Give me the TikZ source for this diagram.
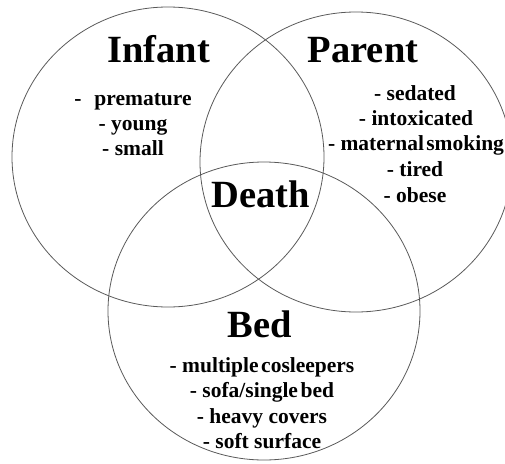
\documentclass[tikz,border=0pt]{standalone}
\usepackage{fontspec}
\setmainfont{Liberation Serif}
\begin{document}
\begin{tikzpicture}[x=1pt,y=-1pt,
  ring/.style={draw=black!65,line width=0.8pt},
  title/.style={font=\fontsize{38.5}{40}\selectfont\bfseries,anchor=base,inner sep=0pt},
  item/.style={font=\fontsize{21.5}{25}\selectfont\bfseries,anchor=base,inner sep=0pt}]
\useasboundingbox (0,0) rectangle (505,463);
\draw[ring] (168,157) ellipse [x radius=156, y radius=150];
\draw[ring] (356,162) ellipse [x radius=156, y radius=150];
\draw[ring] (264,311) ellipse [x radius=156, y radius=149];
% titles
\node[title] (infant) at (158.5,62) {Infant};
\node[title] (parent) at (363,62) {Parent};
\node[title] (death) at (261,207) {Death};
\node[title] (bed) at (259.5,337) {Bed};
% infant items
\node[item] (i1) at (133,105) {-\hspace{0.6em}premature};
\node[item] (i2) at (133,130) {- young};
\node[item] (i3) at (133,155) {- small};
% parent items
\node[item] (p1) at (415,100) {- sedated};
\node[item] (p2) at (416,125) {- intoxicated};
\node[item] (p3) at (416,150) {- maternal\hspace{0.1em}smoking};
\node[item] (p4) at (415,176) {- tired};
\node[item] (p5) at (415,202) {- obese};
% bed items
\node[item] (b1) at (262,372) {- multiple\hspace{0.12em}cosleepers};
\node[item] (b2) at (262,397) {- sofa/single\hspace{0.12em}bed};
\node[item] (b3) at (262,423) {- heavy covers};
\node[item] (b4) at (262,448) {- soft surface};
\end{tikzpicture}
\end{document}
